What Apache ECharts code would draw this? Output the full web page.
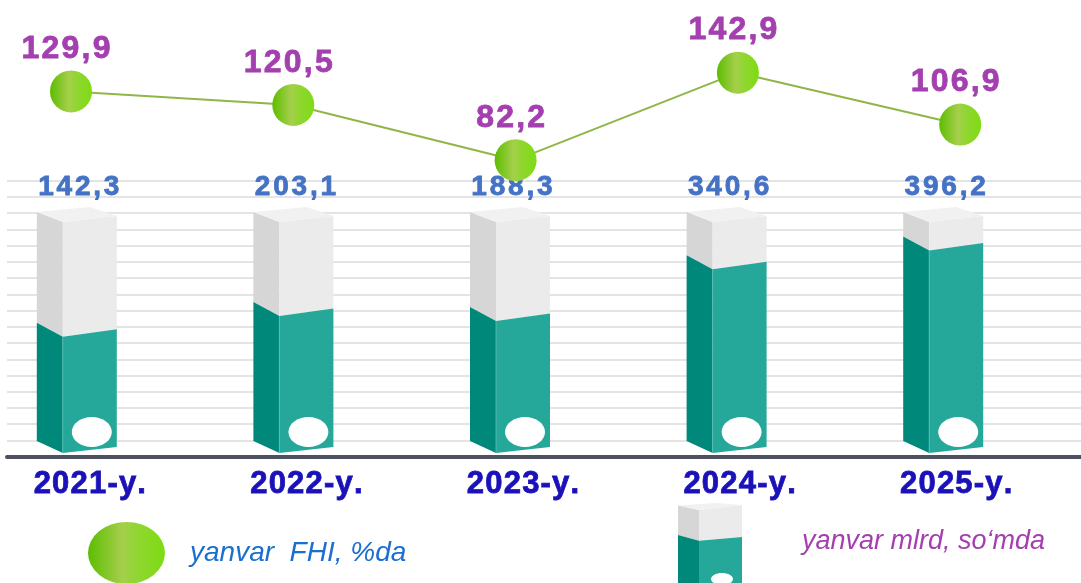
<!DOCTYPE html>
<html>
<head>
<meta charset="utf-8">
<script src="https://cdn.jsdelivr.net/npm/echarts@6/dist/echarts.min.js"></script>
<style>
html,body{margin:0;padding:0;background:#fff;}
#chart{width:1081px;height:583px;}
</style>
</head>
<body>
<div id="chart"></div>
<script>
const categories = ['2021-y.', '2022-y.', '2023-y.', '2024-y.', '2025-y.'];
const fhiValues = [129.9, 120.5, 82.2, 142.9, 106.9];
const mlrdValues = [142.3, 203.1, 188.3, 340.6, 396.2];
const lineName = 'yanvar  FHI, %da';
const barName = 'yanvar mlrd, so\u2018mda';

const FONT = 'Liberation Sans, Arial, sans-serif';
const BAR_MIN = -200, BAR_MAX = 480;

function fmt(v) { return v.toFixed(1).replace('.', ','); }
function spaced(str, tok) {
  return str.split('').map(ch => '{' + tok + '|' + ch + '}').join('');
}

const chart = echarts.init(document.getElementById('chart'), null, {renderer: 'canvas'});

const markerGrad = {
  type: 'linear', x: 0, y: 0, x2: 1, y2: 0,
  colorStops: [
    {offset: 0, color: '#5cbd00'},
    {offset: 0.45, color: '#a6cf4c'},
    {offset: 0.6, color: '#93d535'},
    {offset: 1, color: '#7ddc12'}
  ]
};

function renderCarton(params, api) {
  const i = api.value(0), v = api.value(1);
  const p = api.coord([i, v]);
  const cx = p[0], yv = p[1];
  const yb = api.coord([i, BAR_MIN])[1];
  const yt = api.coord([i, BAR_MAX])[1];
  const fw = 27, lw = 26;
  const L = cx - fw - lw, M = cx - fw, R = cx + fw;
  const txt = fmt(v);
  return {
    type: 'group',
    children: [
      {type: 'polygon', shape: {points: [[L, yt - 10], [M, yt], [M, yv], [L, yv - 14]]}, style: {fill: '#d6d6d6'}},
      {type: 'polygon', shape: {points: [[M, yt], [R, yt - 6], [R, yv - 7.5], [M, yv]]}, style: {fill: '#ebebeb'}},
      {type: 'polygon', shape: {points: [[L, yt - 10], [cx, yt - 15], [R, yt - 6], [M, yt]]}, style: {fill: '#f1f1f1'}},
      {type: 'polygon', shape: {points: [[L, yv - 14], [M, yv], [M, yb], [L, yb - 12]]}, style: {fill: '#00897b'}},
      {type: 'polygon', shape: {points: [[M, yv], [R, yv - 7.5], [R, yb - 6], [M, yb]]}, style: {fill: '#25a79a'}},
      {type: 'line', shape: {x1: M, y1: yv, x2: M, y2: yb}, style: {stroke: '#5cc0b4', lineWidth: 0.8}},
      {type: 'ellipse', shape: {cx: cx + 2, cy: yb - 21, rx: 20, ry: 15}, style: {fill: '#ffffff'}},
      {
        type: 'text', x: cx - 11, y: yt - 35,
        style: {
          text: spaced(txt, 'b'),
          align: 'center', verticalAlign: 'middle',
          rich: {b: {fontSize: 28, fontWeight: 'bold', fontFamily: FONT, fill: '#4472c4',
                     stroke: '#4472c4', lineWidth: 0.8, padding: [0, 1.4, 0, 1.4]}}
        }
      }
    ]
  };
}

const option = {
  backgroundColor: '#ffffff',
  animation: false,
  grid: [
    {left: 7, right: 0, top: 180.7, bottom: 126.3},
    {left: 89.8, right: 124.8, top: 222, bottom: 130},
    {left: 71, right: 120.8, top: 48, bottom: 390.8}
  ],
  xAxis: [
    {gridIndex: 0, type: 'category', data: [''], axisLine: {show: true, lineStyle: {color: '#4d505e', width: 4}},
     axisTick: {show: false}, axisLabel: {show: false}, splitLine: {show: false}},
    {gridIndex: 1, type: 'category', data: categories, boundaryGap: false,
     axisLine: {show: false}, axisTick: {show: false}, splitLine: {show: false},
     axisLabel: {
       margin: 16,
       formatter: function (val) { return spaced(val, 'c'); },
       rich: {c: {fontSize: 31, fontWeight: 'bold', fontFamily: FONT, color: '#1a12b8',
                  textBorderColor: '#1a12b8', textBorderWidth: 0.8, padding: [0, 0.6, 0, 0.6]}}
     }},
    {gridIndex: 2, type: 'category', data: categories, boundaryGap: false, show: false}
  ],
  yAxis: [
    {gridIndex: 0, type: 'value', min: 0, max: 17, interval: 1,
     axisLine: {show: false}, axisTick: {show: false}, axisLabel: {show: false},
     splitLine: {show: true, lineStyle: {color: '#e4e4e4', width: 2}}},
    {gridIndex: 1, type: 'value', min: BAR_MIN, max: BAR_MAX, show: false, splitLine: {show: false}},
    {gridIndex: 2, type: 'value', min: 60, max: 160, show: false, splitLine: {show: false}}
  ],
  legend: [
    {
      data: [lineName], left: 88, top: 522, padding: 0, selectedMode: false,
      icon: 'path://M0,31 A38.5,31 0 1,1 77,31 A38.5,31 0 1,1 0,31 Z',
      itemWidth: 77, itemHeight: 62,
      textStyle: {color: '#1a6fcf', fontSize: 28, fontStyle: 'italic', fontFamily: FONT, padding: [10, 0, 0, 20]}
    },
    {
      data: [barName], left: 783, top: 527, padding: 0, selectedMode: false,
      icon: 'rect', itemWidth: 14, itemHeight: 28, itemStyle: {opacity: 0},
      textStyle: {color: '#a43fb0', fontSize: 27, fontStyle: 'italic', fontFamily: FONT}
    }
  ],
  graphic: [
    {
      type: 'group', silent: true,
      children: [
        {type: 'polygon', shape: {points: [[678, 505.5], [699, 510], [699, 540.7], [678, 535]]}, style: {fill: '#d6d6d6'}},
        {type: 'polygon', shape: {points: [[699, 510], [742, 505], [742, 537], [699, 540.7]]}, style: {fill: '#ebebeb'}},
        {type: 'polygon', shape: {points: [[678, 505.5], [715, 503], [742, 505], [699, 510]]}, style: {fill: '#f1f1f1'}},
        {type: 'polygon', shape: {points: [[678, 535], [699, 540.7], [699, 590], [678, 590]]}, style: {fill: '#00897b'}},
        {type: 'polygon', shape: {points: [[699, 540.7], [742, 537], [742, 590], [699, 590]]}, style: {fill: '#25a79a'}},
        {type: 'ellipse', shape: {cx: 722, cy: 579, rx: 11, ry: 6}, style: {fill: '#ffffff'}}
      ]
    }
  ],
  series: [
    {
      name: barName, type: 'custom', xAxisIndex: 1, yAxisIndex: 1,
      data: mlrdValues.map((v, i) => [i, v]),
      encode: {x: 0, y: 1},
      itemStyle: {color: '#25a79a'},
      renderItem: renderCarton, z: 2
    },
    {
      name: lineName, type: 'line', xAxisIndex: 2, yAxisIndex: 2,
      data: fhiValues, symbol: 'circle', symbolSize: 42,
      lineStyle: {color: '#8fb646', width: 2},
      itemStyle: {color: markerGrad},
      label: {
        show: true, position: 'top', distance: 5, offset: [-5, 0],
        formatter: function (p) { return spaced(fmt(p.value), 'p'); },
        rich: {p: {fontSize: 32, fontWeight: 'bold', fontFamily: FONT, color: '#a43fb0',
                   textBorderColor: '#a43fb0', textBorderWidth: 0.8, padding: [0, 1.1, 0, 1.1]}}
      },
      z: 3
    }
  ]
};
chart.setOption(option);
</script>
</body>
</html>
